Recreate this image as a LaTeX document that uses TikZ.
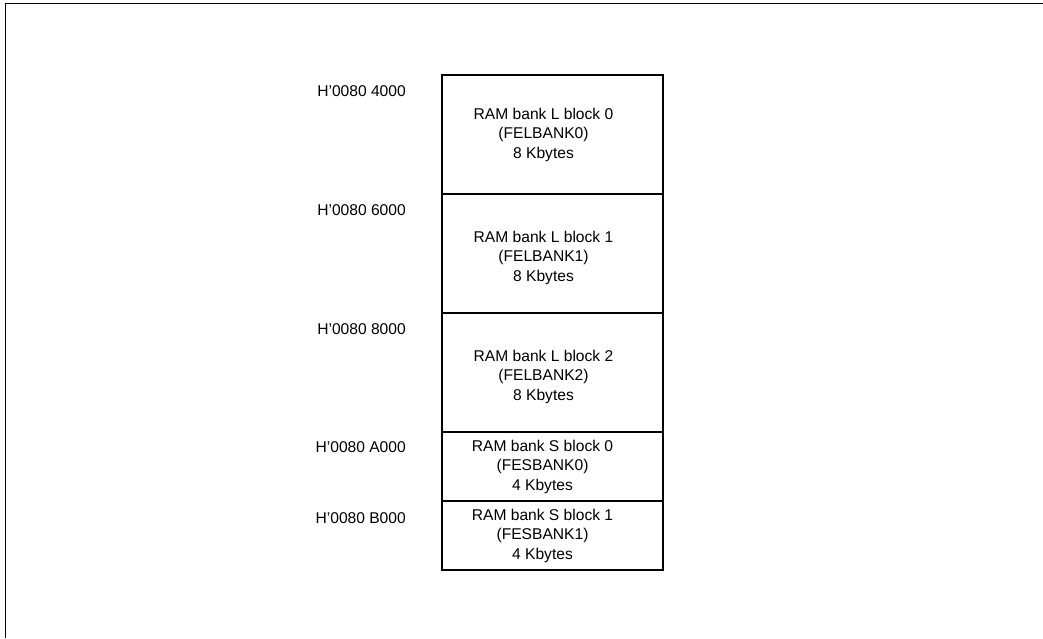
\documentclass[tikz,border=0pt]{standalone}
\usepackage{fontspec}
\setmainfont{Liberation Sans}
\usetikzlibrary{positioning}
\tikzset{
  bank/.style={draw=black,line width=1.8pt,minimum width=221pt,outer sep=0pt,inner sep=0pt},
  banktext/.style={align=center,inner sep=0pt,font=\fontsize{15.6}{19.5}\selectfont},
  addr/.style={anchor=east,inner sep=0pt,font=\fontsize{15.6}{19.5}\selectfont}
}
\begin{document}
\begin{tikzpicture}[x=1pt,y=-1pt]
    \useasboundingbox (0,0) rectangle (1043,638);
    \draw[black,line width=1.6pt] (1043,3.5) -- (5.5,3.5) -- (5.5,638);
    \node[bank,minimum height=119pt] (lb0) at (552.5,134.5) {};
    \node[bank,minimum height=119pt,below=0pt of lb0] (lb1) {};
    \node[bank,minimum height=119pt,below=0pt of lb1] (lb2) {};
    \node[bank,minimum height=69pt,below=0pt of lb2] (sb0) {};
    \node[bank,minimum height=69pt,below=0pt of sb0] (sb1) {};
    \node[banktext] (lt0) at ([xshift=-9pt]lb0.center) {RAM bank L block 0\\(FELBANK0)\\8 Kbytes};
    \node[banktext] (lt1) at ([xshift=-9pt,yshift=-4pt]lb1.center) {RAM bank L block 1\\(FELBANK1)\\8 Kbytes};
    \node[banktext] (lt2) at ([xshift=-9pt,yshift=-4pt]lb2.center) {RAM bank L block 2\\(FELBANK2)\\8 Kbytes};
    \node[banktext] (st0) at ([xshift=-10pt]sb0.center) {RAM bank S block 0\\(FESBANK0)\\4 Kbytes};
    \node[banktext] (st1) at ([xshift=-10pt]sb1.center) {RAM bank S block 1\\(FESBANK1)\\4 Kbytes};
    \node[addr] (a0) at ([xshift=-36pt,yshift=-16.5pt]lb0.north west) {H’0080 4000};
    \node[addr] (a1) at ([xshift=-36pt,yshift=-16.5pt]lb1.north west) {H’0080 6000};
    \node[addr] (a2) at ([xshift=-36pt,yshift=-16.5pt]lb2.north west) {H’0080 8000};
    \node[addr] (a3) at ([xshift=-36pt,yshift=-15pt]sb0.north west) {H’0080 A000};
    \node[addr] (a4) at ([xshift=-36pt,yshift=-17pt]sb1.north west) {H’0080 B000};
\end{tikzpicture}
\end{document}
